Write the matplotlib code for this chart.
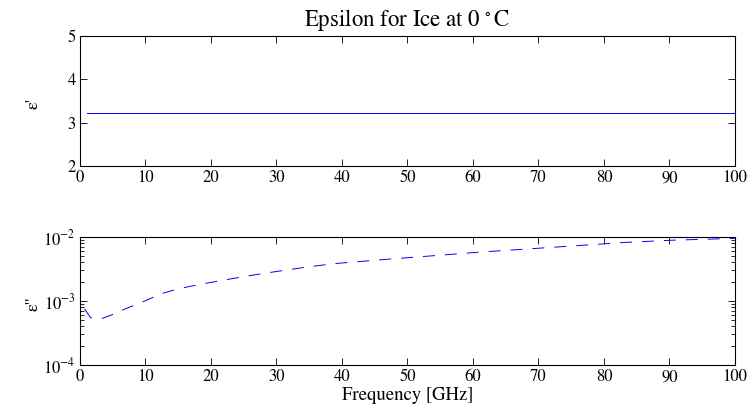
"""Epsilon for ice at 0 C: real and imaginary permittivity over frequency."""

import matplotlib

matplotlib.use("Agg", force=True)
import matplotlib.pyplot as plt
from matplotlib.ticker import LogLocator

plt.rcParams["font.family"] = "STIXGeneral"
plt.rcParams["mathtext.fontset"] = "stix"
plt.rcParams["lines.scale_dashes"] = False

# real part, constant over the band
freq_real = [1, 100]
eps_real = [3.23, 3.23]

# imaginary part
freq_imag = [0.7, 1.6, 3.3, 4.75, 6.6, 9.9, 12.4, 15, 18.7, 22.3, 26, 29.6,
             34.7, 39, 46.5, 53.8, 61, 68.4, 75.7, 83, 90.3, 100]
eps_imag = [7.5e-4, 5.5e-4, 5.3e-4, 6.0e-4, 7.3e-4, 1.0e-3, 1.3e-3, 1.55e-3,
            1.85e-3, 2.15e-3, 2.5e-3, 2.85e-3, 3.4e-3, 3.85e-3, 4.45e-3,
            5.08e-3, 5.8e-3, 6.5e-3, 7.3e-3, 8.2e-3, 8.9e-3, 9.5e-3]

x_ticks = list(range(0, 101, 10))


def _style(ax):
    ax.tick_params(which="both", direction="in", top=True, right=True,
                   labelsize=12, pad=3)
    ax.tick_params(which="major", length=5, width=0.6)
    ax.tick_params(which="minor", length=3, width=0.6)
    for spine in ax.spines.values():
        spine.set_linewidth(0.8)
    ax.set_xlim(0, 100)
    ax.set_xticks(x_ticks)
    ax.yaxis.set_label_coords(-0.058, 0.48)


fig = plt.figure(figsize=(7.51, 4.17), dpi=100)
ax1 = fig.add_axes([0.1065, 0.602, 0.872, 0.312])
ax2 = fig.add_axes([0.1065, 0.1247, 0.872, 0.307])

ax1.plot(freq_real, eps_real, color="#0000ff", linewidth=0.7)
ax1.set_ylim(2, 5)
ax1.set_yticks([2, 3, 4, 5])
ax1.set_ylabel("ε'", fontsize=13)
ax1.set_title(r"Epsilon for Ice at 0$\,^\circ$C", fontsize=16.5, pad=7)
_style(ax1)

line, = ax2.plot(freq_imag, eps_imag, color="#0000ff", linewidth=0.7)
line.set_dashes([8.6, 7.2])
ax2.set_yscale("log")
ax2.set_ylim(1e-4, 1e-2)
ax2.yaxis.set_major_locator(LogLocator(base=10, numticks=5))
ax2.set_ylabel("ε''", fontsize=13)
ax2.set_xlabel("Frequency [GHz]", fontsize=13.5, labelpad=1)
_style(ax2)

fig.savefig("out.png", dpi=100)
plt.close(fig)
